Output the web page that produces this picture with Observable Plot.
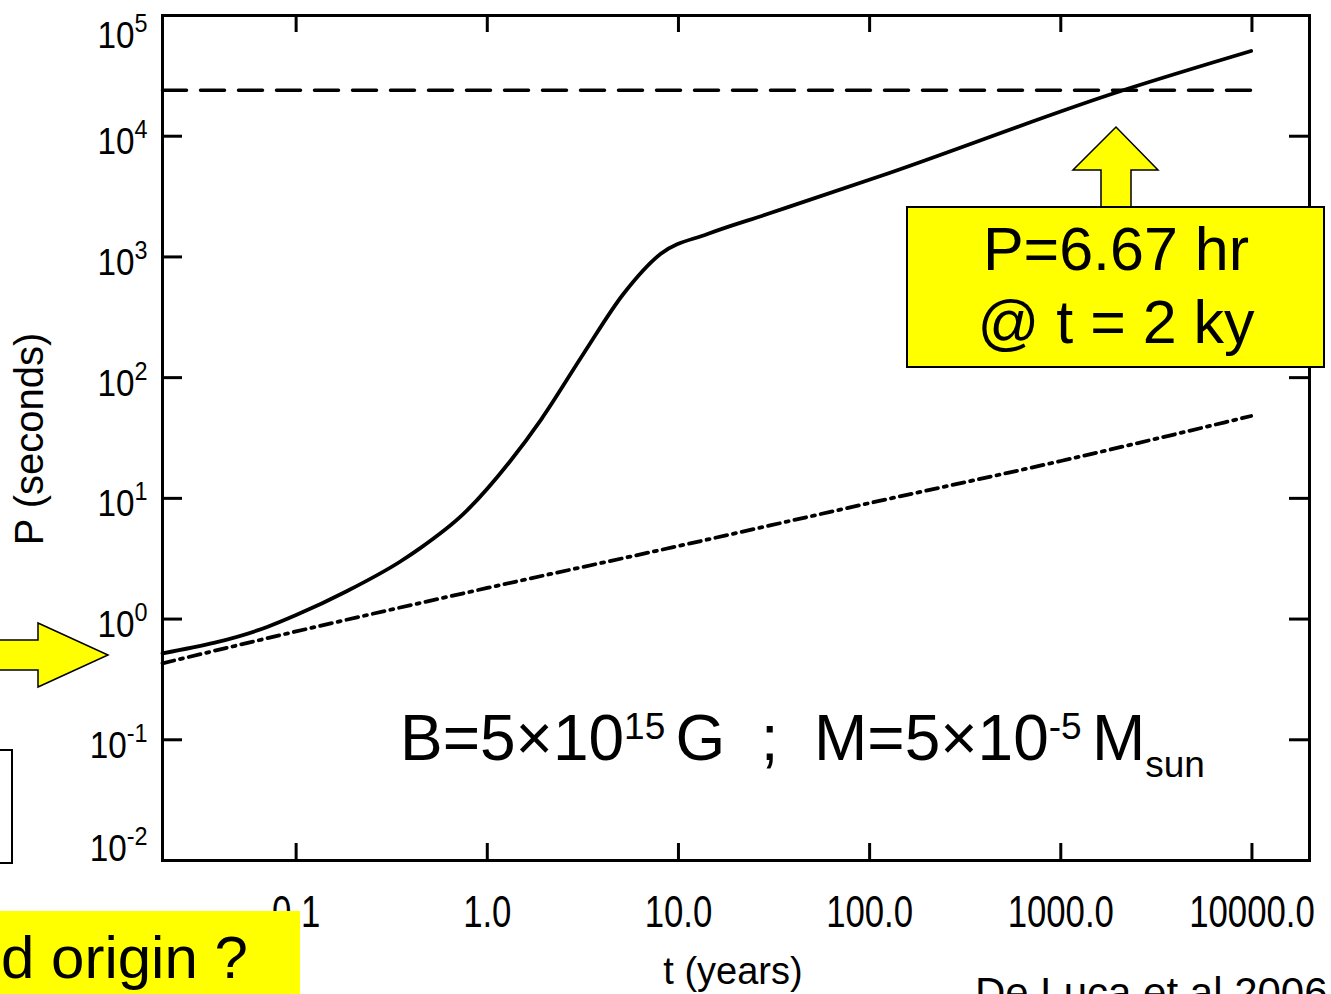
<!DOCTYPE html>
<html><head><meta charset="utf-8">
<script src="https://cdn.jsdelivr.net/npm/d3@7"></script>
<script src="https://cdn.jsdelivr.net/npm/@observablehq/plot@0.6"></script>
<style>
html,body{margin:0;padding:0;background:#fff;}
#chart{position:relative;width:1331px;height:994px;overflow:hidden;}
</style>
</head><body><div id="chart"></div>
<script>
// ---- data ----
const solidT = [0.02, 0.0705, 0.1, 0.185, 0.351, 0.446, 0.748, 1.32, 1.92, 3.18, 5.15, 8.05, 14.2, 29.2, 114, 2061, 9900];
const solidP = [0.52, 0.86, 1.08, 1.71, 3.0, 3.87, 7.4, 20.4, 45.4, 157, 493, 1057, 1549, 2266, 4677, 23680, 50800];
const dashDotT = [0.02, 0.1, 1, 10, 100, 1000, 9900];
const dashDotP = [0.43, 0.79, 1.81, 4.03, 9.14, 20.4, 48.1];
const dashedT = [0.02, 9900];
const dashedP = [24000, 24000];
const xTicks = [0.1, 1, 10, 100, 1000, 10000];
const xTickLabels = ["0.1", "1.0", "10.0", "100.0", "1000.0", "10000.0"];
const yTicks = [1e-2, 1e-1, 1e0, 1e1, 1e2, 1e3, 1e4, 1e5];
const yExponents = ["-2", "-1", "0", "1", "2", "3", "4", "5"];
const xLabel = "t (years)";
const yLabel = "P (seconds)";

const solid = solidT.map((t, i) => ({t, P: solidP[i]}));
const dashDot = dashDotT.map((t, i) => ({t, P: dashDotP[i]}));
const dashed = dashedT.map((t, i) => ({t, P: dashedP[i]}));

const W = 1331, H = 994;
const mL = 162, mR = 22, mT = 15, mB = 134;
const fw = W - mL - mR, fh = H - mT - mB;
const sans = "'Liberation Sans', Arial, Helvetica, sans-serif";

const plot = Plot.plot({
  width: W, height: H,
  marginLeft: mL, marginRight: mR, marginTop: mT, marginBottom: mB,
  x: {type: "log", domain: [0.02, 20000]},
  y: {type: "log", domain: [0.01, 1e5]},
  style: {background: "white", color: "black", fontFamily: sans},
  marks: [
    Plot.line(dashed, {x: "t", y: "P", stroke: "black", strokeWidth: 3.5, strokeDasharray: "24,14"}),
    Plot.line(dashDot, {x: "t", y: "P", stroke: "black", strokeWidth: 3.8, strokeDasharray: "12,6,3,6", curve: "monotone-x"}),
    Plot.line(solid, {x: "t", y: "P", stroke: "black", strokeWidth: 3.8, curve: "monotone-x"}),
    Plot.ruleX(xTicks, {x: d => d, insetTop: fh - 17, strokeWidth: 3}),
    Plot.ruleX(xTicks, {x: d => d, insetBottom: fh - 17, strokeWidth: 3}),
    Plot.ruleY(yTicks.slice(1, -1), {y: d => d, insetRight: fw - 20, strokeWidth: 3}),
    Plot.ruleY(yTicks.slice(1, -1), {y: d => d, insetLeft: fw - 20, strokeWidth: 3}),
    Plot.frame({stroke: "black", strokeWidth: 3}),
    Plot.axisX(xTicks, {anchor: "bottom", tickSize: 0, tickPadding: 35, tickFormat: d => xTickLabels[xTicks.indexOf(d)], fontSize: 44, label: null}),
    Plot.axisY(yTicks, {anchor: "left", tickSize: 0, tickPadding: 15, tickFormat: d => "10^" + yExponents[yTicks.indexOf(d)], fontSize: 37, label: null})
  ]
});
document.getElementById("chart").append(plot);

const s = d3.select(plot);
// condensed x tick labels (the figure is stretched vertically)
s.selectAll('g[aria-label="x-axis tick label"] text').each(function() {
  const tr = this.getAttribute("transform") || "";
  this.setAttribute("transform", tr + " scale(0.79,1)");
});
// superscripted y tick labels
s.selectAll('g[aria-label="y-axis tick label"] text').each(function() {
  const str = this.textContent;
  const e = str.split("^")[1];
  const t = d3.select(this);
  t.text("10");
  t.append("tspan").attr("dy", -16).attr("font-size", 26).text(e);
  t.attr("y", 0).attr("dy", e === "5" ? 32 : e === "-2" ? 0 : 18);
  const tr = this.getAttribute("transform") || "";
  this.setAttribute("transform", tr + " scale(0.9,1)");
});

// axis titles
s.append("text").attr("transform", "translate(43,439) rotate(-90)")
  .attr("text-anchor", "middle").attr("font-size", 40).attr("font-family", sans).attr("fill", "black").text(yLabel);
s.append("text").attr("x", 733).attr("y", 984)
  .attr("text-anchor", "middle").attr("font-size", 38).attr("font-family", sans).attr("fill", "black").text(xLabel);

// ---- slide annotations ----
const ov = s.append("g").attr("font-family", sans).attr("text-anchor", "start");
// left arrow
ov.append("polygon").attr("points", "-5,640 38,640 38,623 108,655 38,687 38,670 -5,670")
  .attr("fill", "#ffff00").attr("stroke", "black").attr("stroke-width", 1.5);
// left white box
ov.append("rect").attr("x", -5).attr("y", 750).attr("width", 17).attr("height", 113)
  .attr("fill", "white").attr("stroke", "black").attr("stroke-width", 2);
// bottom-left yellow box
ov.append("rect").attr("x", -5).attr("y", 911).attr("width", 305).attr("height", 100).attr("fill", "#ffff00");
ov.append("text").attr("x", 1).attr("y", 978).attr("font-size", 60).attr("fill", "black").text("d origin ?");
// callout
ov.append("polygon").attr("points", "1101,210 1101,170 1073,170 1116,127 1158,170 1131,170 1131,210")
  .attr("fill", "#ffff00").attr("stroke", "black").attr("stroke-width", 1.5);
ov.append("rect").attr("x", 907).attr("y", 207).attr("width", 417).attr("height", 160)
  .attr("fill", "#ffff00").attr("stroke", "black").attr("stroke-width", 2);
ov.append("text").attr("x", 1116).attr("y", 270).attr("text-anchor", "middle").attr("font-size", 61).attr("fill", "black").text("P=6.67 hr");
ov.append("text").attr("x", 1116).attr("y", 343).attr("text-anchor", "middle").attr("font-size", 61).attr("fill", "black").text("@ t = 2 ky");
// B / M text
const bt = ov.append("text").attr("x", 0).attr("y", 760).attr("font-size", 64).attr("fill", "black").style("white-space", "pre");
bt.append("tspan").text("B=5×10");
bt.append("tspan").attr("font-size", 37).attr("dy", -21).text("15 ");
bt.append("tspan").attr("dy", 21).text("G  ;  M=5×10");
bt.append("tspan").attr("font-size", 37).attr("dy", -21).text("-5 ");
bt.append("tspan").attr("dy", 21).text("M");
bt.append("tspan").attr("font-size", 37).attr("dy", 17).text("sun");
const bw = bt.node().getComputedTextLength();
bt.attr("transform", `translate(400,0) scale(${805 / bw},1)`);
// citation
ov.append("text").attr("x", 975).attr("y", 1007).attr("font-size", 42).attr("fill", "black").text("De Luca et al 2006");
</script>
</body></html>
